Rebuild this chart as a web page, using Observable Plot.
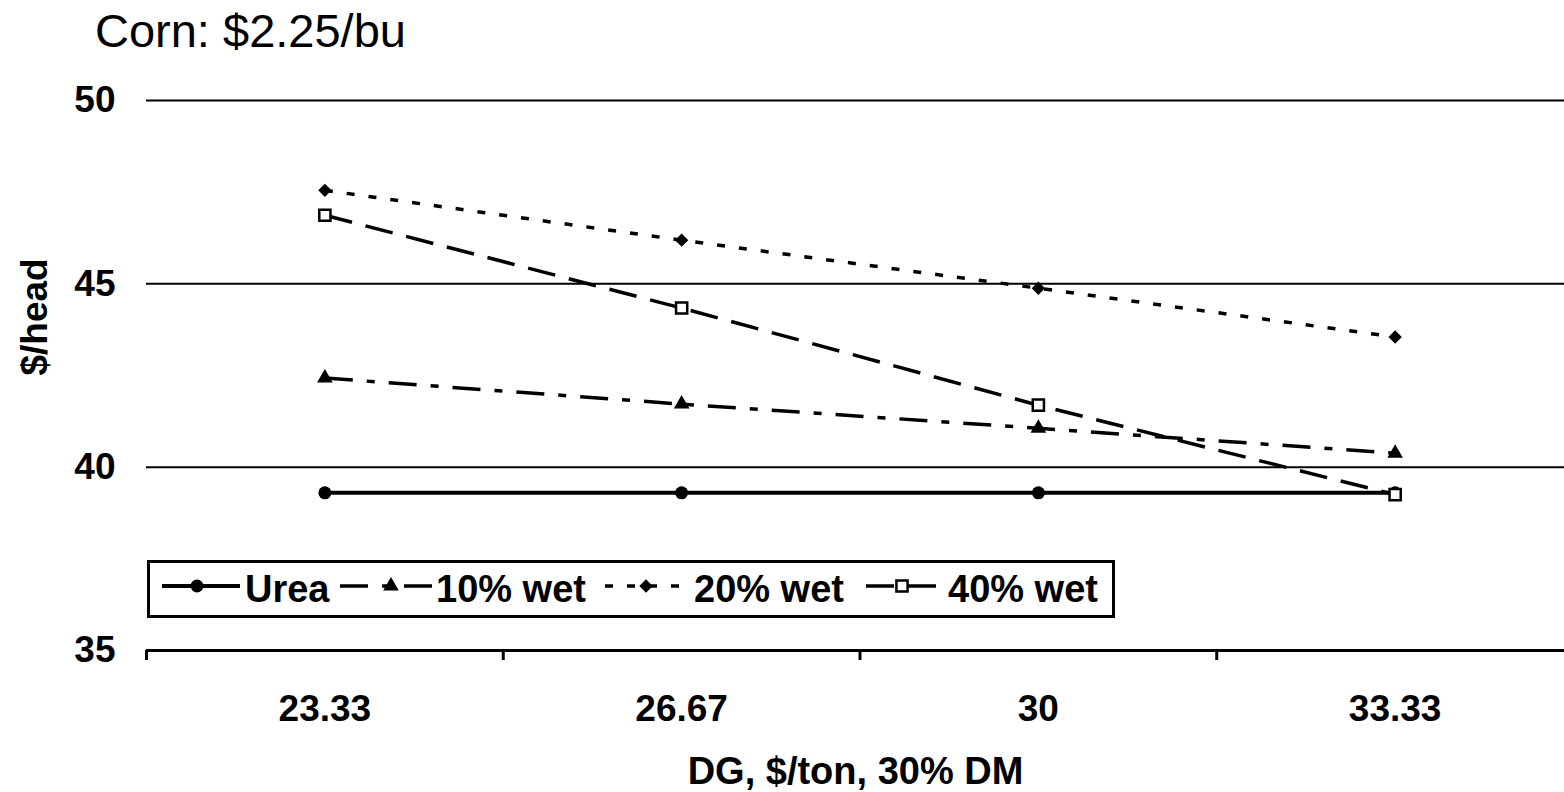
<!DOCTYPE html>
<html>
<head>
<meta charset="utf-8">
<script src="https://cdn.jsdelivr.net/npm/d3@7"></script>
<script src="https://cdn.jsdelivr.net/npm/@observablehq/plot@0.6"></script>
<style>
  html, body { margin: 0; padding: 0; background: #fff; overflow: hidden; }
  #wrap { position: relative; width: 1564px; height: 792px; font-family: "Liberation Sans", Arial, sans-serif; }
  #title { height: 62px; box-sizing: border-box; padding: 8px 0 0 95px; font-size: 47px; line-height: 46px; color: #000; }
  #legend { position: absolute; left: 147px; top: 560px; width: 962px; height: 52px; border: 3px solid #000; background: #fff; }
  .lg-text { position: absolute; font-size: 38px; line-height: 38px; font-weight: bold; color: #000; white-space: nowrap; }
  .lg-swatch { position: absolute; overflow: visible; }
</style>
</head>
<body>
<div id="wrap">
  <div id="title">Corn: $2.25/bu</div>
  <div id="chart"></div>
  <div id="legend"></div>
</div>
<script>
// ---- data ----
const categories = ["23.33", "26.67", "30", "33.33"];
const seriesNames = ["Urea", "10% wet", "20% wet", "40% wet"];
const urea   = [39.3, 39.3, 39.3, 39.3];
const wet10  = [42.43, 41.72, 41.06, 40.38];
const wet20  = [47.55, 46.19, 44.88, 43.55];
const wet40  = [46.87, 44.34, 41.69, 39.25];
const yTicks = [35, 40, 45, 50];
const gridValues = [40, 45, 50];
const xTitle = "DG, $/ton, 30% DM";
const yTitle = "$/head";

const seriesValues = [urea, wet10, wet20, wet40];
const dashes  = [null, "28,14,8,14", "8,14", "28,14"];
const widths  = [4, 3.5, 3.5, 3.5];
const symbols = ["circle", "triangle", "diamond2", "square"];
const radii   = [6.5, 5.8, 6, 6.3];
const fills   = ["black", "black", "black", "white"];

const rows = [];
seriesNames.forEach((s, si) => {
  seriesValues[si].forEach((v, i) => rows.push({series: s, xi: i + 0.5, cat: categories[i], value: v}));
});

const lineMarks = seriesNames.map((s, si) =>
  Plot.line(rows.filter(d => d.series === s), {
    x: "xi", y: "value", stroke: "black", strokeWidth: widths[si],
    strokeDasharray: dashes[si] || undefined, strokeLinecap: "butt"
  })
);
const dotMarks = seriesNames.map((s, si) =>
  Plot.dot(rows.filter(d => d.series === s), {
    x: "xi", y: "value", symbol: () => symbols[si], r: radii[si],
    fill: fills[si], stroke: "black", strokeWidth: si === 3 ? 2.5 : 0
  })
);

const chart = Plot.plot({
  width: 1564,
  height: 730,
  marginTop: 38,
  marginBottom: 142,
  marginLeft: 146,
  marginRight: 0,
  style: {fontFamily: "'Liberation Sans', Arial, sans-serif", fontSize: "37px", fontWeight: "bold", color: "black", background: "white"},
  x: {type: "linear", domain: [0, categories.length], range: [146, 1573]},
  y: {domain: [35, 50]},
  symbol: {type: "identity"},
  marks: [
    Plot.ruleY(gridValues, {stroke: "black", strokeWidth: 2}),
    Plot.ruleY([yTicks[0]], {stroke: "black", strokeWidth: 3}),
    Plot.axisY({ticks: yTicks, tickSize: 0, tickPadding: 31, label: null, fontSize: 37, fontWeight: "bold"}),
    Plot.axisX({ticks: categories.map((c, i) => i), tickSize: 10, tickFormat: () => "", label: null, strokeWidth: 3}),
    Plot.axisX({ticks: categories.map((c, i) => i + 0.5), tickSize: 0, tickPadding: 44,
      tickFormat: d => categories[Math.floor(d)], label: null, fontSize: 37, fontWeight: "bold"}),
    Plot.text([xTitle], {frameAnchor: "bottom", lineAnchor: "middle", dy: 121, fontSize: 38, fontWeight: "bold"}),
    Plot.text([yTitle], {frameAnchor: "left", lineAnchor: "middle", rotate: -90, dx: -111, fontSize: 37, fontWeight: "bold"}),
    ...lineMarks,
    ...dotMarks
  ]
});
document.getElementById("chart").appendChild(chart);

// ---- legend ----
const legend = document.getElementById("legend");
const lgSwatch = [[162, 240, 197], [340, 432, 391], [605, 690, 646], [866, 938, 902]];
const lgText = [245, 436, 694, 948];
const lgLeft = 147, lgTop = 560;
const symbolPath = {
  circle: d3.symbol(d3.symbolCircle),
  triangle: d3.symbol(d3.symbolTriangle),
  diamond2: d3.symbol(d3.symbolDiamond2),
  square: d3.symbol(d3.symbolSquare)
};
seriesNames.forEach((s, si) => {
  const [x1, x2, xm] = lgSwatch[si];
  const ns = "http://www.w3.org/2000/svg";
  const svg = document.createElementNS(ns, "svg");
  svg.setAttribute("class", "lg-swatch");
  svg.setAttribute("width", x2 - x1);
  svg.setAttribute("height", 20);
  svg.style.left = (x1 - lgLeft - 3) + "px";
  svg.style.top = (586 - 10 - lgTop - 3) + "px";
  const line = document.createElementNS(ns, "line");
  line.setAttribute("x1", 0); line.setAttribute("x2", x2 - x1);
  line.setAttribute("y1", 10); line.setAttribute("y2", 10);
  line.setAttribute("stroke", "black");
  line.setAttribute("stroke-width", widths[si]);
  if (dashes[si]) line.setAttribute("stroke-dasharray", dashes[si]);
  svg.appendChild(line);
  const p = document.createElementNS(ns, "path");
  const r = radii[si];
  p.setAttribute("d", symbolPath[symbols[si]].size(Math.PI * r * r)());
  p.setAttribute("transform", `translate(${xm - x1},10)`);
  p.setAttribute("fill", fills[si]);
  p.setAttribute("stroke", "black");
  p.setAttribute("stroke-width", si === 3 ? 2.5 : 0);
  svg.appendChild(p);
  legend.appendChild(svg);
  const t = document.createElement("div");
  t.className = "lg-text";
  t.textContent = s;
  t.style.left = (lgText[si] - lgLeft - 3) + "px";
  t.style.top = (570 - lgTop - 3) + "px";
  legend.appendChild(t);
});
</script>
</body>
</html>
